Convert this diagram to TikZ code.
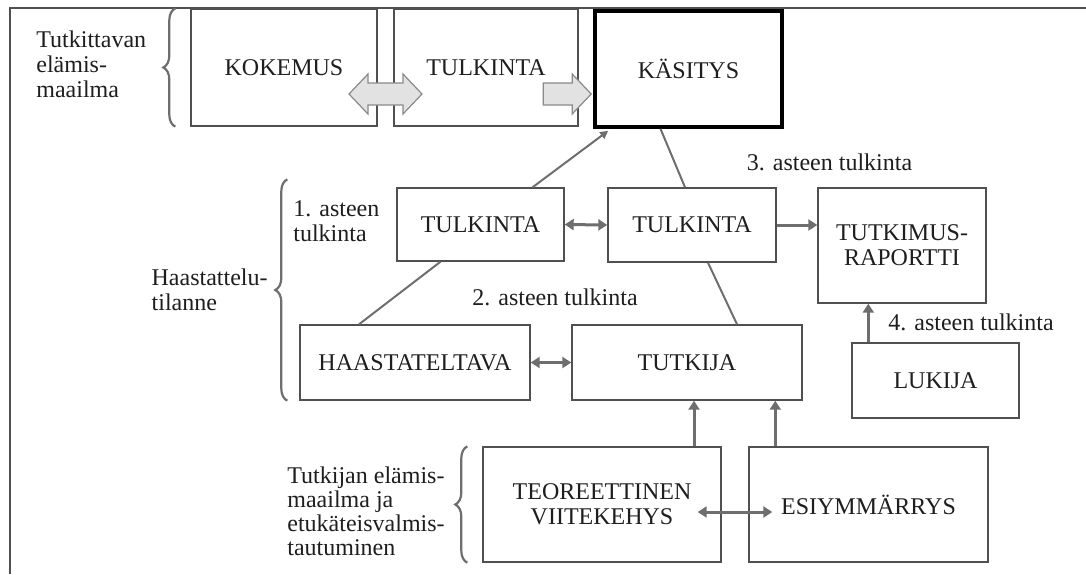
\documentclass[tikz,border=0pt]{standalone}
\usepackage{fontspec}
\setmainfont{Liberation Serif}
\usetikzlibrary{arrows.meta,calc,positioning,decorations.pathreplacing}

\definecolor{boxgray}{HTML}{505050}
\definecolor{arrgray}{HTML}{6E6E6E}
\definecolor{txtgray}{HTML}{1E1E1E}
\definecolor{fatfill}{HTML}{E2E2E2}
\definecolor{fatline}{HTML}{8A8A8A}

\newcommand{\lblfont}{\fontsize{12}{12.5}\selectfont}

\tikzset{
  box/.style={draw=boxgray, line width=0.7pt, inner sep=0pt, align=center,
    font=\lblfont, text=txtgray},
  note/.style={inner sep=0pt, align=left, font=\lblfont, text=txtgray},
  arr/.style={draw=arrgray, line width=1.5pt, -{Triangle[length=4.5pt,width=5.5pt]}},
  dblarr/.style={draw=arrgray, line width=1.5pt,
    {Triangle[length=4.5pt,width=5.5pt]}-{Triangle[length=4.5pt,width=5.5pt]}},
  ln/.style={draw=arrgray, line width=1pt},
  fat/.style={draw=fatline, fill=fatfill, line width=0.6pt, line join=miter},
  curly/.style={draw=arrgray, line width=1.1pt, decorate,
    decoration={brace, amplitude=6pt}},
  frame/.style={draw=boxgray, line width=0.7pt}
}

\begin{document}
\begin{tikzpicture}[x=0.5pt, y=-0.5pt]

  \useasboundingbox (0,0) rectangle (1086,574);

  \draw [frame] (10,574) -- (10,8) -- (1086,8);

  % boxes
  \node [box, minimum width=93pt, minimum height=58.5pt] (kok) at (284,67.5) {KOKEMUS};
  \node [box, minimum width=92pt, minimum height=58.5pt] (tulk0) at (486,67.5) {TULKINTA};
  \node [box, draw=black, line width=1.8pt, minimum width=93.5pt, minimum height=58pt] (kas) at (688.5,69) {KÄSITYS};

  \node [box, minimum width=83.5pt, minimum height=36.5pt] (tulk1) at (480.5,224.5) {TULKINTA};
  \node [box, minimum width=84pt, minimum height=37pt] (tulk2) at (692,225) {TULKINTA};
  \node [box, minimum width=84pt, minimum height=57.5pt] (rap) at (902,245.5) {TUTKIMUS-\\RAPORTTI};

  \node [box, minimum width=115pt, minimum height=37.5pt] (haas) at (415,362.5) {HAASTATELTAVA};
  \node [box, minimum width=115pt, minimum height=37.5pt] (tutk) at (687,362.5) {TUTKIJA};
  \node [box, minimum width=83.5pt, minimum height=37.5pt] (luk) at (935.5,380.5) {LUKIJA};

  \node [box, minimum width=119pt, minimum height=57.5pt] (teor) at (602,504.5) {TEOREETTINEN\\VIITEKEHYS};
  \node [box, minimum width=119.5pt, minimum height=57.5pt] (esi) at (868.5,504.5) {ESIYMMÄRRYS};

  % fat arrows
  \coordinate (d) at ($(kok.east)!0.5!(tulk0.west)+(0,26.5)$);
  \draw [fat] ($(d)+(-36.5,0)$) -- ++(19,-20) -- ++(0,9) -- ++(35,0) -- ++(0,-9)
    -- ++(19,20) -- ++(-19,20) -- ++(0,-9) -- ++(-35,0) -- ++(0,9) -- cycle;
  \coordinate (s) at ($(kas.west)+(-2,25)$);
  \draw [fat] (s) -- ++(-19,-20) -- ++(0,9) -- ++(-29,0) -- ++(0,22)
    -- ++(29,0) -- ++(0,9) -- cycle;

  % lines
  \draw [ln, -{Triangle[length=4pt,width=4pt]}] ($(tulk1.north)+(52,0)$) -- ($(kas.south west)+(15,2)$);
  \draw [ln] ($(kas.south)+(-28,0)$) -- ($(tulk2.north)+(-7,0)$);
  \draw [ln] ($(tulk1.south)+(-40,0)$) -- ($(haas.north)+(-56,0)$);
  \draw [ln] ($(tulk2.south)+(16,0)$) -- ($(tutk.north)+(50,0)$);

  % arrows
  \draw [dblarr] (tulk1.east) -- (tulk2.west);
  \draw [arr] (tulk2.east) -- (tulk2.east -| rap.west);
  \draw [dblarr] (haas.east) -- (tutk.west);
  \coordinate (lk) at ($(luk.north west)+(17,0)$);
  \draw [arr] (lk) -- (lk |- rap.south);
  \coordinate (tk) at ($(teor.north)+(92,0)$);
  \draw [arr] (tk) -- (tk |- tutk.south);
  \coordinate (ek) at ($(esi.north west)+(27,0)$);
  \draw [arr] (ek) -- (ek |- tutk.south);
  \draw [dblarr] ($(teor.east)+(-24,7.5)$) -- ($(esi.west)+(24,7.5)$);

  % braces
  \draw [curly] ($(kok.south west)+(-15,0)$) -- ($(kok.north west)+(-15,0)$);
  \draw [curly] ($(haas.south west)+(-12,0)$) -- ($(haas.south west |- tulk1.north)+(-12,-8)$);
  \draw [curly] ($(teor.south west)+(-15,0)$) -- ($(teor.north west)+(-15,0)$);

  % labels
  \node [note, anchor=west] (world) at (36,64) {Tutkittavan\\elämis-\\maailma};
  \node [note, anchor=east] (situ) at (268,290) {Haastattelu-\\tilanne};
  \node [note, anchor=west] (first) at (293,221) {1. asteen\\tulkinta};
  \node [note] (second) at (555,297) {2. asteen tulkinta};
  \node [note] (third) at (829.5,162) {3. asteen tulkinta};
  \node [note] (fourth) at (971,322) {4. asteen tulkinta};
  \node [note, anchor=west, font=\fontsize{12}{12}\selectfont] (own) at (287,511)
    {Tutkijan elämis-\\maailma ja\\etukäteisvalmis-\\tautuminen};

\end{tikzpicture}
\end{document}
